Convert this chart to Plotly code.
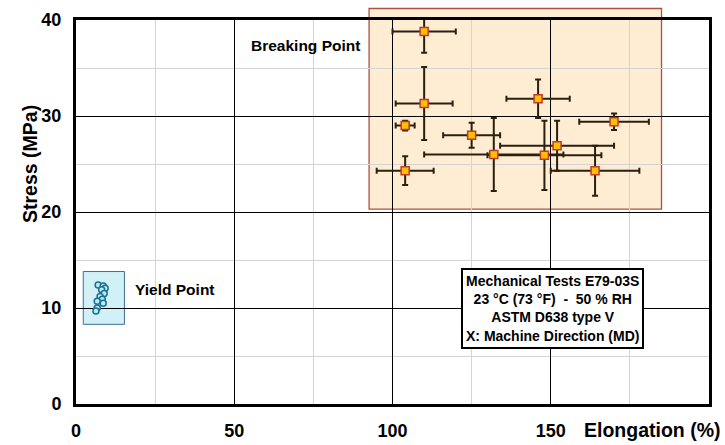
import plotly.graph_objects as go

# ---- data ----
break_x = [110, 110, 104, 125, 132, 146, 148, 152, 170, 164, 104]
break_y = [38.8, 31.3, 29.0, 28.0, 26.0, 31.8, 25.9, 26.9, 29.4, 24.3, 24.3]
break_xerr = [10, 9, 3, 9, 22, 10, 18, 18, 11, 14, 9]
break_yerr = [2.2, 3.8, 0.5, 1.3, 3.8, 2.0, 3.6, 2.6, 0.85, 2.6, 1.5]

yield_x = [7.0, 8.6, 9.2, 8.1, 8.9, 7.6, 8.3, 6.7, 8.6, 6.7, 6.3]
yield_y = [12.4, 12.3, 12.05, 11.9, 11.5, 11.2, 10.9, 10.7, 10.5, 10.0, 9.7]

x_ticks = [0, 50, 100, 150]
y_ticks = [0, 10, 20, 30, 40]
x_minor = [25, 75, 125, 175]
y_minor = [5, 15, 25, 35]

break_region = dict(x0=92.6, x1=185.0, y0=20.3, y1=41.2)
yield_region = dict(x0=2.3, x1=15.3, y0=8.3, y1=13.8)

info_lines = ["Mechanical Tests E79-03S", "23 °C (73 °F)  -  50 % RH",
              "ASTM D638 type V", "X: Machine Direction (MD)"]

XR = [0, 200]
YR = [0, 40]

FONT = "Arial, Liberation Sans, sans-serif"

def px_(v):
    return (v - XR[0]) / (XR[1] - XR[0])

def py_(v):
    return (v - YR[0]) / (YR[1] - YR[0])

fig = go.Figure()

fig.add_trace(go.Scatter(
    x=yield_x, y=yield_y, mode="markers",
    marker=dict(symbol="circle", size=6, color="#b5ecf7",
                line=dict(color="#1f6f8f", width=1.5)),
    showlegend=False, cliponaxis=False))

fig.add_trace(go.Scatter(
    x=break_x, y=break_y, mode="markers",
    marker=dict(symbol="square", size=8, color="#FFC000",
                line=dict(color="#C0392B", width=1.5)),
    error_x=dict(type="data", array=break_xerr, color="#2b2010", thickness=2, width=3),
    error_y=dict(type="data", array=break_yerr, color="#2b2010", thickness=2, width=3),
    showlegend=False, cliponaxis=False))

# shaded regions
fig.add_shape(type="rect", xref="paper", yref="paper", layer="below",
              x0=px_(break_region["x0"]), x1=px_(break_region["x1"]),
              y0=py_(break_region["y0"]), y1=py_(break_region["y1"]),
              fillcolor="rgba(252,205,140,0.38)",
              line=dict(color="rgb(175,80,70)", width=1.3))
fig.add_shape(type="rect", xref="paper", yref="paper", layer="below",
              x0=px_(yield_region["x0"]), x1=px_(yield_region["x1"]),
              y0=py_(yield_region["y0"]), y1=py_(yield_region["y1"]),
              fillcolor="rgba(140,220,235,0.4)",
              line=dict(color="rgb(60,110,160)", width=1))

bold = dict(family=FONT, weight="bold", color="black")

fig.add_annotation(x=72.4, y=37.3, text="Breaking Point", showarrow=False,
                   font=dict(**bold, size=15.5))
fig.add_annotation(x=31.3, y=11.9, text="Yield Point", showarrow=False,
                   font=dict(**bold, size=15.5))
fig.add_annotation(x=150.7, y=9.9, text="<br>".join(info_lines), showarrow=False,
                   font=dict(**bold, size=14), bgcolor="white",
                   bordercolor="black", borderwidth=2, borderpad=3, align="center")
fig.add_annotation(xref="paper", yref="paper", x=1.0205, y=0, yanchor="top",
                   xanchor="right", yshift=-13, text="Elongation (%)", showarrow=False,
                   font=dict(**bold, size=19.5))
fig.add_annotation(xref="paper", yref="y", x=-0.0727, y=25, text="Stress (MPa)",
                   xanchor="center", yanchor="middle",
                   textangle=-90, showarrow=False, font=dict(**bold, size=19.5))

fig.update_xaxes(range=XR, tickmode="array", tickvals=x_ticks,
                 ticktext=[str(v) for v in x_ticks], automargin=False,
                 showgrid=True, gridcolor="black", gridwidth=1,
                 minor=dict(tickmode="array", tickvals=x_minor, showgrid=True,
                            gridcolor="#d4d4d4", gridwidth=1),
                 showline=True, linecolor="black", linewidth=3, mirror=True,
                 ticks="", zeroline=False, ticklabelstandoff=8,
                 tickfont=dict(**bold, size=18))
fig.update_yaxes(range=YR, tickmode="array", tickvals=y_ticks, automargin=False,
                 showgrid=True, gridcolor="black", gridwidth=1,
                 minor=dict(tickmode="array", tickvals=y_minor, showgrid=True,
                            gridcolor="#d4d4d4", gridwidth=1),
                 showline=True, linecolor="black", linewidth=3, mirror=True,
                 ticks="", zeroline=False, ticklabelstandoff=8,
                 tickfont=dict(**bold, size=18))

fig.update_layout(width=725, height=445,
                  margin=dict(l=76, r=16, t=20, b=41),
                  paper_bgcolor="white", plot_bgcolor="rgba(0,0,0,0)",
                  showlegend=False)

fig.write_html("out.html")
